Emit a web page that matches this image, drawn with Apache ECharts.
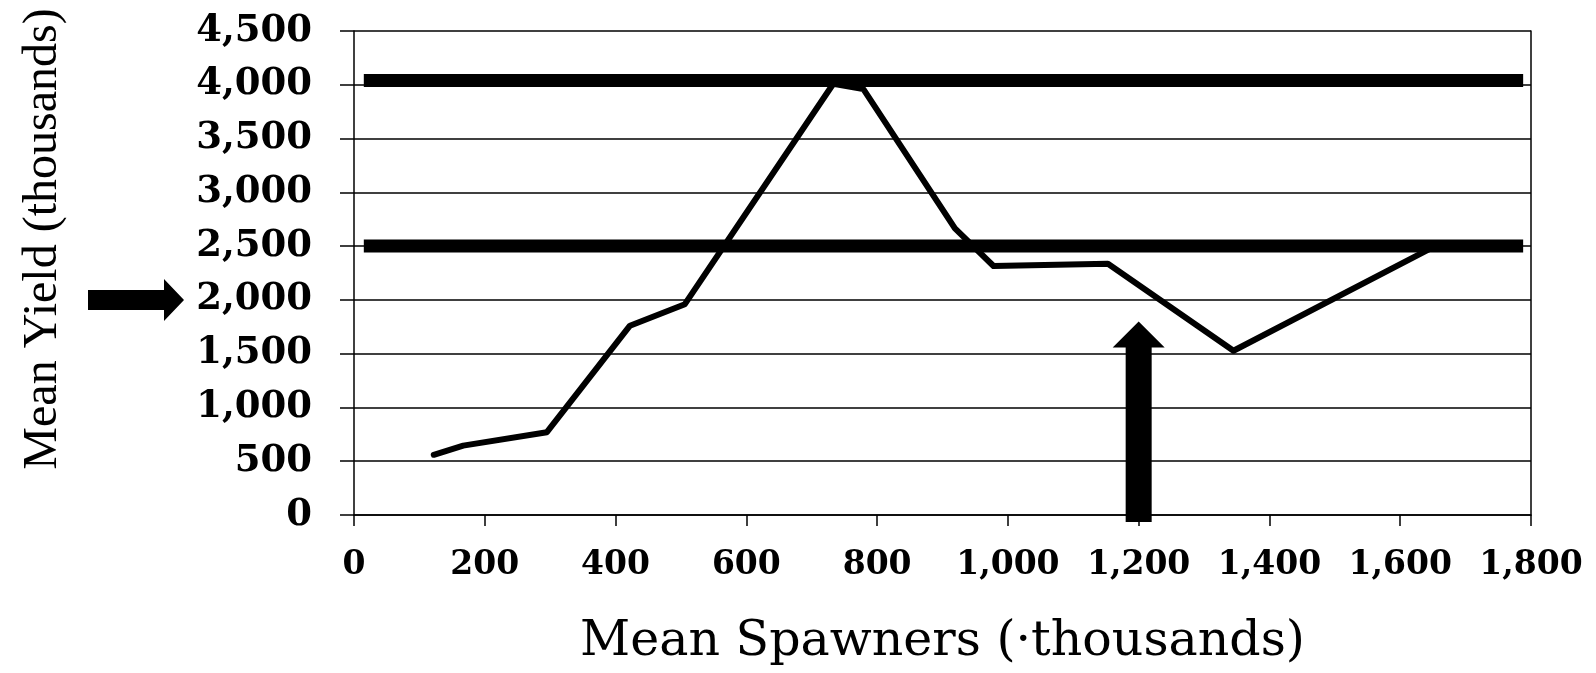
<!DOCTYPE html>
<html>
<head>
<meta charset="utf-8">
<script src="https://cdn.jsdelivr.net/npm/echarts@6/dist/echarts.min.js"></script>
<style>
  html, body { margin: 0; padding: 0; background: #fff; }
  #chart { width: 1596px; height: 673px; }
</style>
</head>
<body>
<div id="chart"></div>
<script>
// ---- data ----
const spawners = [122, 167, 295, 422, 506, 733, 779, 919, 978, 1153, 1345, 1660];
const meanYield = [560, 645, 770, 1760, 1960, 4010, 3960, 2665, 2315, 2336, 1527, 2520];
const refLevels = [4040, 2500];
const refSpan = [15, 1788];
const xTickLabels = ['0', '200', '400', '600', '800', '1,000', '1,200', '1,400', '1,600', '1,800'];
const yTickLabels = ['0', '500', '1,000', '1,500', '2,000', '2,500', '3,000', '3,500', '4,000', '4,500'];
const upArrowX = 1200, upArrowTip = 1800;
const leftArrowY = 2000;

const chart = echarts.init(document.getElementById('chart'));
const serifBold = { fontFamily: 'DejaVu Serif', fontWeight: 'bold', color: '#000' };

const option = {
  animation: false,
  backgroundColor: '#fff',
  grid: { left: 354, right: 65, top: 31, bottom: 158 },
  xAxis: {
    type: 'value', min: 0, max: 1800, interval: 200,
    name: 'Mean Spawners (·thousands)', nameLocation: 'middle', nameGap: 103,
    nameTextStyle: { fontFamily: 'DejaVu Serif', fontSize: 49, color: '#000' },
    axisLine: { show: true, lineStyle: { color: '#000', width: 1.5 } },
    axisTick: { show: true, length: 11, lineStyle: { color: '#000', width: 1.5 } },
    axisLabel: Object.assign({ fontSize: 33, margin: 34,
      formatter: (v) => xTickLabels[Math.round(v / 200)] }, serifBold),
    splitLine: { show: false }
  },
  yAxis: [{
    type: 'value', min: 0, max: 4500, interval: 500,
    name: 'Mean Yield (thousands)', nameLocation: 'middle', nameGap: 287, nameRotate: 90,
    nameTextStyle: { fontFamily: 'Liberation Serif', fontSize: 48, color: '#000', padding: [0, 0, 0, 68] },
    axisLine: { show: true, lineStyle: { color: '#000', width: 1.5 } },
    axisTick: { show: true, inside: false, length: 14, lineStyle: { color: '#000', width: 1.5 } },
    axisLabel: Object.assign({ fontSize: 37, margin: 42,
      formatter: (v) => yTickLabels[Math.round(v / 500)] }, serifBold),
    splitLine: { show: true, lineStyle: { color: '#000', width: 1.5 } }
  }, {
    type: 'value', min: 0, max: 4500, interval: 500, position: 'right',
    axisLine: { show: true, onZero: false, lineStyle: { color: '#000', width: 1.5 } },
    axisTick: { show: false }, axisLabel: { show: false }, splitLine: { show: false }
  }],
  series: [
    {
      type: 'line', data: spawners.map((x, i) => [x, meanYield[i]]),
      showSymbol: false, symbol: 'none',
      lineStyle: { color: '#000', width: 6, cap: 'round', join: 'round' },
      z: 5
    }
  ].concat(refLevels.map((lv) => ({
    type: 'line', data: [[refSpan[0], lv], [refSpan[1], lv]],
    showSymbol: false, symbol: 'none',
    lineStyle: { color: '#000', width: 13 }, z: 6
  })))
};
chart.setOption(option);

// ---- annotation arrows ----
const [ax, tipY] = chart.convertToPixel({ gridIndex: 0 }, [upArrowX, upArrowTip]);
const baseY = chart.convertToPixel({ gridIndex: 0 }, [upArrowX, 0])[1] + 7;
const headLen = 26, headHalf = 26, shaftHalf = 13;
const upArrow = [
  [ax, tipY], [ax + headHalf, tipY + headLen], [ax + shaftHalf, tipY + headLen],
  [ax + shaftHalf, baseY], [ax - shaftHalf, baseY], [ax - shaftHalf, tipY + headLen],
  [ax - headHalf, tipY + headLen]
];
const ly = chart.convertToPixel({ gridIndex: 0 }, [0, leftArrowY])[1];
const tipX = 184, shaftStart = 88, lHead = 20, lHeadHalf = 21, lShaftHalf = 10;
const leftArrow = [
  [tipX, ly], [tipX - lHead, ly - lHeadHalf], [tipX - lHead, ly - lShaftHalf],
  [shaftStart, ly - lShaftHalf], [shaftStart, ly + lShaftHalf], [tipX - lHead, ly + lShaftHalf],
  [tipX - lHead, ly + lHeadHalf]
];
chart.setOption({
  graphic: [
    { type: 'polygon', shape: { points: upArrow }, style: { fill: '#000' }, z: 10 },
    { type: 'polygon', shape: { points: leftArrow }, style: { fill: '#000' }, z: 10 }
  ]
});
</script>
</body>
</html>
